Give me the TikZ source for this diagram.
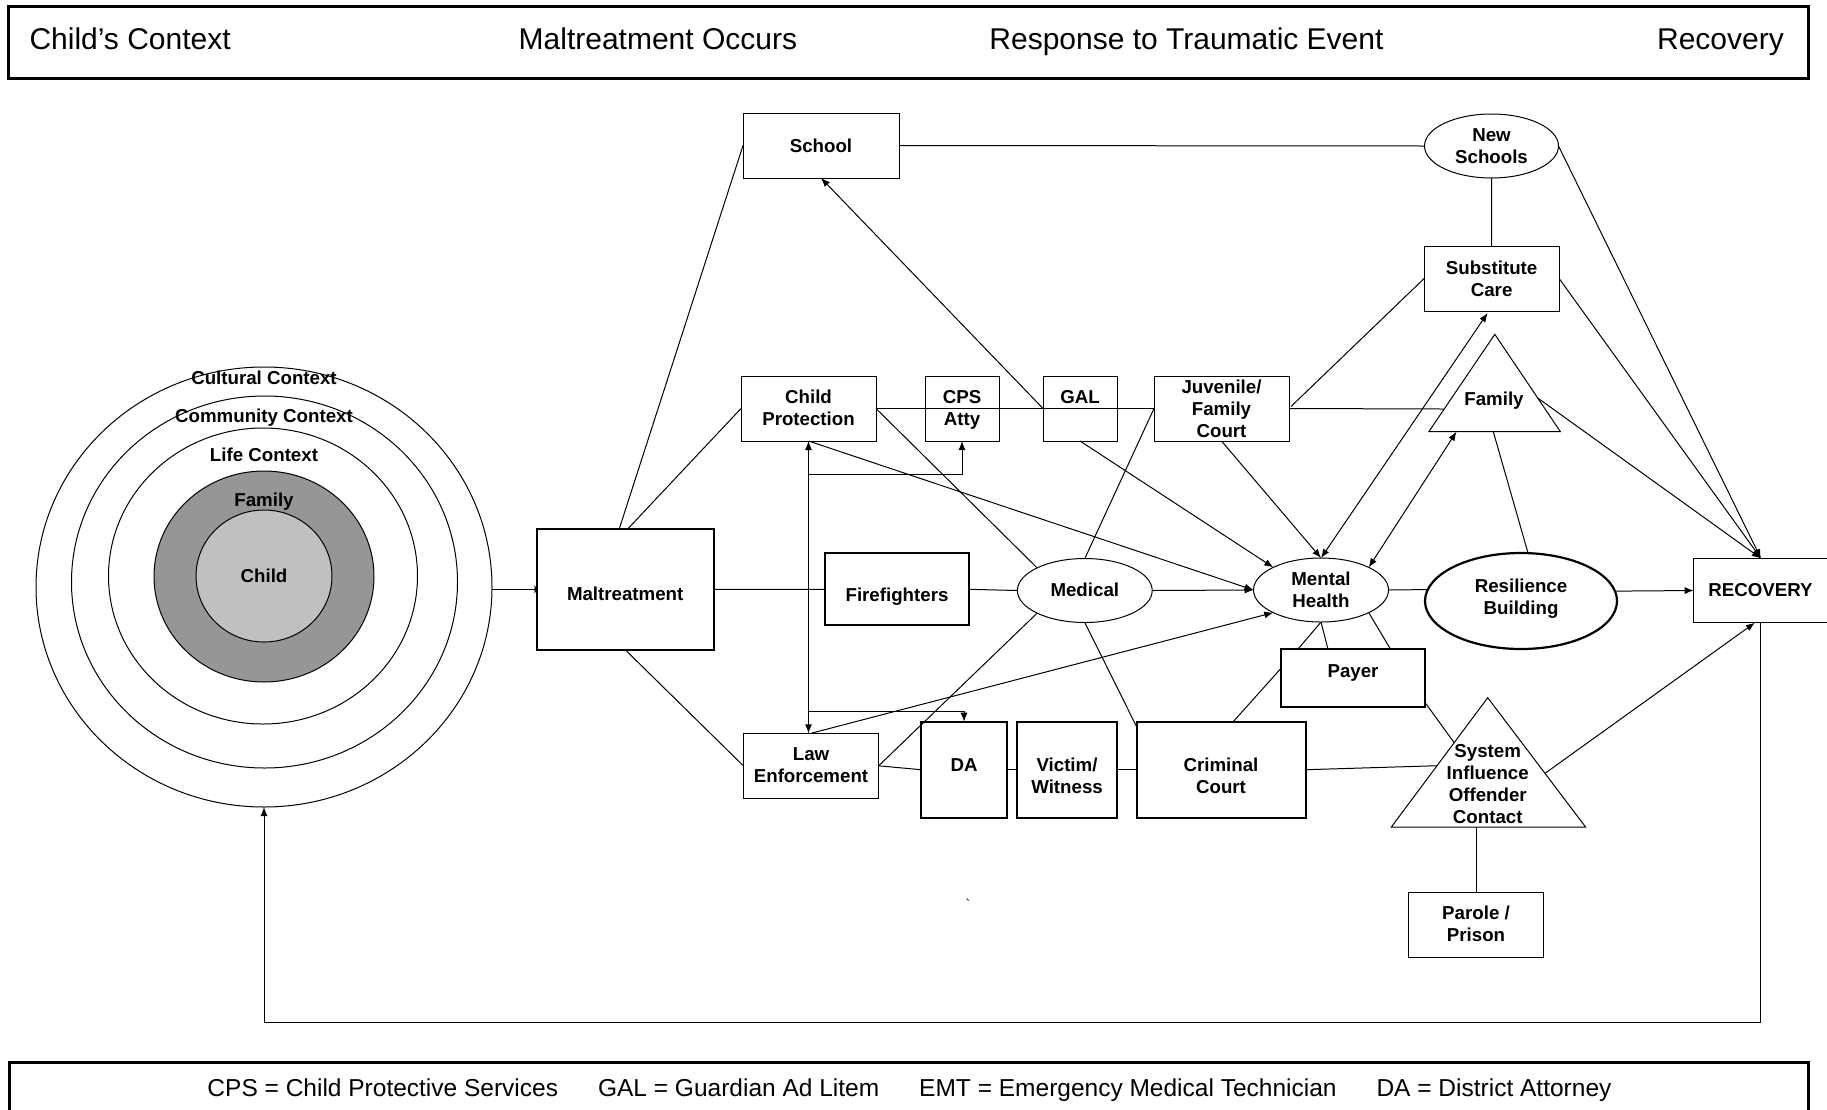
\documentclass[tikz,border=0pt]{standalone}
\usepackage{fontspec}
\setmainfont{Liberation Sans}
\usetikzlibrary{arrows.meta,calc,shapes.geometric}
\definecolor{famgray}{RGB}{150,150,150}
\definecolor{childgray}{RGB}{192,192,192}
\tikzset{
  shp/.style={draw=black, line width=1pt, inner sep=0pt, outer sep=0pt},
  rbox/.style={shp, rectangle},
  tbox/.style={shp, rectangle, line width=2.2pt},
  oval/.style={shp, ellipse},
  toval/.style={shp, ellipse, line width=2.2pt},
  txt/.style={inner sep=0pt, outer sep=0pt, align=center, font=\fontsize{18.7}{22}\selectfont\bfseries},
  head/.style={inner sep=0pt, font=\fontsize{30}{36}\selectfont},
  foot/.style={inner sep=0pt, font=\fontsize{24.5}{30}\selectfont},
  frame/.style={draw=black, line width=3pt, inner sep=0pt, outer sep=0pt},
  conn/.style={line width=1pt},
  arr/.style={conn, -{Latex[length=9pt,width=7pt]}},
  darr/.style={conn, {Latex[length=9pt,width=7pt]}-{Latex[length=9pt,width=7pt]}},
}
\begin{document}
\begin{tikzpicture}[x=1pt,y=-1pt]
\useasboundingbox (0,0) rectangle (1827,1109);

% header and footer
\node[frame, minimum width=1800pt, minimum height=71.6pt] (header) at (908.3,42.5) {};
\node[head, anchor=base west] (h1) at (29.3,49.5) {Child’s Context};
\node[head, anchor=base west] (h2) at (518.5,49.5) {Maltreatment Occurs};
\node[head, anchor=base west] (h3) at (989.2,49.5) {Response to Traumatic Event};
\node[head, anchor=base east] (h4) at (1784,49.5) {Recovery};
\node[frame, minimum width=1798.4pt, minimum height=60pt] (footer) at (908.8,1092.3) {};
\node[foot, anchor=base] (ftxt) at (909.5,1096.7) {CPS = Child Protective Services\hspace{40pt}GAL = Guardian Ad Litem\hspace{40pt}EMT = Emergency Medical Technician\hspace{40pt}DA = District Attorney};

% context rings
\node[shp, ellipse, minimum width=456pt, minimum height=440pt] (cult) at (264,587) {};
\node[shp, ellipse, minimum width=386pt, minimum height=372pt] (comm) at (264.5,582) {};
\node[shp, ellipse, minimum width=309pt, minimum height=296pt] (life) at (263,576) {};
\node[shp, ellipse, fill=famgray, minimum width=220pt, minimum height=211pt] (famring) at (264,576.5) {};
\node[shp, ellipse, fill=childgray, minimum width=136pt, minimum height=132pt] (childring) at (264,576) {};
\node[txt] (cultT) at (264,378) {Cultural Context};
\node[txt] (commT) at (264,417.5) {Community Context};
\node[txt] (lifeT) at (264,455) {Life Context};
\node[txt] (famringT) at (264,501.5) {Family};
\node[txt] (childT) at (264,576) {Child};

% boxes and ovals
\node[rbox, minimum width=156pt, minimum height=65pt] (school) at (821,145.5) {};
\node[txt] (schoolT) at (school.center) {School};
\node[rbox, minimum width=135pt, minimum height=65pt] (cp) at (808.5,408.5) {};
\node[txt] (cpT) at (808.5,407.7) {Child\\Protection};
\node[rbox, minimum width=74pt, minimum height=65pt] (cpsatty) at (962,408.5) {};
\node[txt] (cpsattyT) at (962,409.5) {CPS\\Atty};
\node[rbox, minimum width=74pt, minimum height=65pt] (gal) at (1080,408.5) {};
\node[txt] (galT) at (1080,397) {GAL};
\node[rbox, minimum width=135pt, minimum height=65pt] (juv) at (1221.5,408.5) {};
\node[txt] (juvT) at (1221.5,408.8) {Juvenile/\\Family\\Court};
\node[tbox, minimum width=177pt, minimum height=120.7pt] (mal) at (625.2,589.35) {};
\node[txt] (malT) at (625.2,594) {Maltreatment};
\node[tbox, minimum width=144.2pt, minimum height=72pt] (fire) at (897.1,589.3) {};
\node[txt] (fireT) at (897,597) {Firefighters};
\node[oval, minimum width=134.8pt, minimum height=64pt] (med) at (1084.8,590.5) {};
\node[txt] (medT) at (1084.8,590) {Medical};
\node[oval, minimum width=135pt, minimum height=64pt] (mh) at (1321,590) {};
\node[txt] (mhT) at (mh.center) {Mental\\Health};
\node[toval, minimum width=192pt, minimum height=96pt] (res) at (1521,601) {};
\node[txt] (resT) at (1521,599) {Resilience\\Building};
\node[rbox, minimum width=134.3pt, minimum height=64.4pt] (rec) at (1760.85,590.5) {};
\node[txt] (recT) at (1760.5,590) {RECOVERY};
\node[oval, minimum width=134pt, minimum height=64pt] (ns) at (1491.5,146) {};
\node[txt] (nsT) at (ns.center) {New\\Schools};
\node[rbox, minimum width=135pt, minimum height=65pt] (sub) at (1491.6,278.5) {};
\node[txt] (subT) at (1491.6,279) {Substitute\\Care};
\node[tbox, minimum width=144.2pt, minimum height=57.4pt] (payer) at (1353.1,678) {};
\node[txt] (payerT) at (1353,673) {Payer};
\node[rbox, minimum width=135.5pt, minimum height=65pt] (parole) at (1476,924.8) {};
\node[txt] (paroleT) at (1476,924) {Parole /\\Prison};
\node[rbox, minimum width=135.3pt, minimum height=65pt] (le) at (811,765.8) {};
\node[txt] (leT) at (811,765) {Law\\Enforcement};
\node[tbox, minimum width=86pt, minimum height=96pt] (da) at (964,769.7) {};
\node[txt] (daT) at (964,765) {DA};
\node[tbox, minimum width=100pt, minimum height=96pt] (vw) at (1067,769.7) {};
\node[txt] (vwT) at (1067,776) {Victim/\\Witness};
\node[tbox, minimum width=169.2pt, minimum height=96pt] (cc) at (1221.2,769.7) {};
\node[txt] (ccT) at (1221,776) {Criminal\\Court};

% triangles
\coordinate (fa) at (1494.8,334.3);
\coordinate (fl) at (1428.8,431.7);
\coordinate (fr) at (1560.4,431.7);
\draw[conn] (fa) -- (fr) -- (fl) -- cycle;
\node[txt] (famT) at (1494,400.5) {Family};
\coordinate (sa) at (1487.7,697.7);
\coordinate (sl) at (1391.3,827);
\coordinate (sr) at (1585.6,827);
\draw[conn] (sa) -- (sr) -- (sl) -- cycle;
\node[txt] (sysT) at (1487.7,783.8) {System\\Influence\\Offender\\Contact};
\coordinate (famR) at ($(fa)!0.654!(fr)$);
\coordinate (famL) at ($(fa)!0.767!(fl)$);
\coordinate (famB1) at ($(fl)!0.21!(fr)$);
\coordinate (famB2) at ($(fl)!0.49!(fr)$);
\coordinate (sysL1) at ($(sa)!0.348!(sl)$);
\coordinate (sysL2) at ($(sa)!0.526!(sl)$);
\coordinate (sysR) at ($(sa)!0.585!(sr)$);
\coordinate (sysB) at (parole.north |- sl);

% stray mark
\node[inner sep=0pt, font=\fontsize{14}{14}\selectfont] (tick) at (968,904) {\textasciigrave};

% connectors
\draw[conn, -{Latex[length=2pt,width=10pt]}] (cult.east |- mal.west) -- (mal.west);
\draw[conn] ($(mal.north)+(-6,0)$) -- (school.west);
\draw[conn] ($(mal.north)+(2.5,0)$) -- (cp.west);
\draw[conn] (mal.east) -- (fire.west);
\draw[conn] (mal.south) -- (le.west);
\draw[conn] (fire.east) -- (med.west);
\draw[arr] (med.east) -- (mh.west);
\draw[conn] (cp.east) -- (juv.west);
\draw[conn] (cp.east) -- (med.north west);
\draw[arr] (cp.south) -- (mh.west);
\draw[darr] (cp.south) -- (cp.south |- le.north);
\draw[arr] ($(cp.south)+(0,33)$) -| (cpsatty.south);
\draw[arr] ($(cp.south)+(0,270.7)$) -| (da.north);
\draw[arr] (gal.west) -- (school.south);
\draw[conn] (school.east) -- (ns.west);
\draw[conn] (ns.south) -- (sub.north);
\draw[arr] (ns.east) -- (rec.north);
\draw[arr] (sub.east) -- (rec.north);
\draw[arr] (famR) -- (rec.north);
\draw[conn] (juv.east) -- (famL);
\draw[conn] ($(juv.east)+(2,-2)$) -- (sub.west);
\draw[arr] (juv.south) -- (mh.north);
\draw[darr] ($(sub.south)+(-4,2)$) -- (mh.north);
\draw[darr] (famB1) -- (mh.north east);
\draw[conn] (famB2) -- ($(res.north)+(7,0)$);
\draw[conn] (mh.east) -- (res.173.7);
\draw[arr] (res.6.3) -- (rec.west);
\draw[conn] (med.north) -- (juv.west);
\draw[arr] (gal.south) -- (mh.north west);
\draw[conn] (med.south west) -- (le.east);
\draw[conn] (med.south) -- ($(cc.north west)+(0,5)$);
\draw[arr] (le.north) -- (mh.south west);
\draw[conn] (le.east) -- (da.west);
\draw[conn] (da.east) -- (vw.west);
\draw[conn] (vw.east) -- (cc.west);
\draw[conn] (cc.east) -- (sysL2);
\draw[conn] (mh.south) -- ($(payer.north west)+(16.8,0)$);
\draw[conn] (mh.south) -- ($(payer.north west)+(47,0)$);
\draw[conn] (mh.south east) -- ($(payer.north east)+(-34.6,0)$);
\draw[conn] ($(payer.north west)+(0,19)$) -- ($(cc.north)+(12,0)$);
\draw[conn] ($(payer.south east)+(0,-4)$) -- (sysL1);
\draw[arr] (sysR) -- ($(rec.south)+(-6,0)$);
\draw[conn] (sysB) -- (parole.north);
\coordinate (fbcorner) at (1761.5,1022.3);
\draw[arr] (rec.south) -- (rec.south |- fbcorner) -| (cult.south);
\end{tikzpicture}
\end{document}
